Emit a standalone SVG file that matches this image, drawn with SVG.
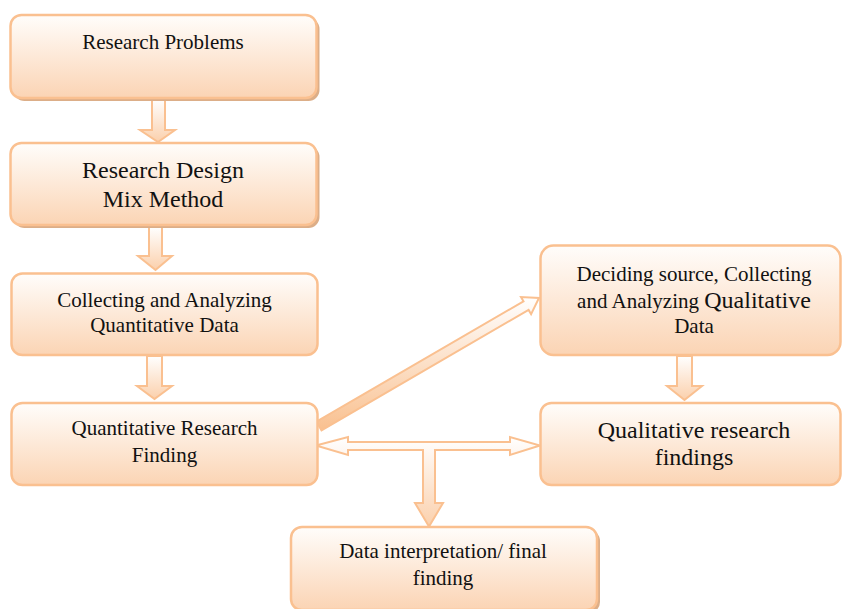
<svg xmlns="http://www.w3.org/2000/svg" width="842" height="609" viewBox="0 0 842 609">
<defs>
<linearGradient id="gBox" x1="0" y1="0" x2="0" y2="1">
<stop offset="0" stop-color="#fffdfb"/>
<stop offset="1" stop-color="#fbd4b4"/>
</linearGradient>
<linearGradient id="gArrow" x1="0" y1="0" x2="0" y2="1">
<stop offset="0" stop-color="#ffffff"/>
<stop offset="1" stop-color="#fbd0ac"/>
</linearGradient>
<linearGradient id="gDiag" x1="0" y1="0" x2="0" y2="1">
<stop offset="0" stop-color="#ffffff"/>
<stop offset="1" stop-color="#f9c08f"/>
</linearGradient>
</defs>
<style>
.box{fill:url(#gBox);stroke:#fac090;stroke-width:2.5}
.shadow{fill:#dcae88}
.arr{fill:url(#gArrow);stroke:#fac090;stroke-width:2;stroke-linejoin:miter}
.diag{fill:url(#gDiag);stroke:#fac090;stroke-width:2}
text{font-family:"Liberation Serif","Times New Roman",serif;fill:#111;text-anchor:middle}
.t21{font-size:21px}
.t24{font-size:24px}
</style>
<rect width="842" height="609" fill="#ffffff"/>

<g id="connectors">
<path class="arr" d="M152,99 L165,99 L165,130 L175,130 L158,142 L140,130 L152,130 Z"/>
<path class="arr" d="M149,227 L162,227 L162,256 L172,256 L155.5,270 L138,256 L149,256 Z"/>
<path class="arr" d="M147,356 L162,356 L162,386 L172,386 L154.5,399 L137,386 L147,386 Z"/>
<path class="arr" d="M677,356 L692,356 L692,386 L702,386 L684.5,400 L667,386 L677,386 Z"/>
<path class="diag" d="M316.5,421.7 L523.5,301.3 L521,297 L539,298 L531.1,314.2 L528.6,309.9 L321.5,430.3 Z"/>
<path class="arr" d="M316,445.5 L348,437 L348,442 L510,442 L510,437 L540,445.5 L510,455 L510,450 L435,450 L435,503 L443,503 L429,526.5 L415,503 L423,503 L423,450 L348,450 L348,455 Z"/>
</g>

<g id="n1">
<rect class="shadow" x="13.5" y="18" width="306" height="83" rx="11"/>
<rect class="box" x="10.5" y="15" width="306" height="83" rx="11"/>
<text class="t21" x="163" y="49">Research Problems</text>
</g>

<g id="n2">
<rect class="shadow" x="13.5" y="146" width="306" height="82" rx="11"/>
<rect class="box" x="10.5" y="143" width="306" height="82" rx="11"/>
<text class="t24" x="163" y="178">Research Design</text>
<text class="t24" x="163" y="207">Mix Method</text>
</g>

<g id="n3">
<rect class="box" x="11.5" y="273.5" width="306" height="81.5" rx="11"/>
<text class="t21" x="164.5" y="306.5">Collecting and Analyzing</text>
<text class="t21" x="164.5" y="331.5">Quantitative Data</text>
</g>

<g id="n4">
<rect class="box" x="11.5" y="403" width="306" height="82" rx="11"/>
<text class="t21" x="164.5" y="435">Quantitative Research</text>
<text class="t21" x="164.5" y="461.5">Finding</text>
</g>

<g id="n5">
<rect class="box" x="540.5" y="245.5" width="300" height="109.5" rx="13"/>
<text class="t21" x="694" y="281">Deciding source, Collecting</text>
<text class="t21" x="694" y="308">and Analyzing <tspan class="t24">Qualitative</tspan></text>
<text class="t21" x="694" y="333">Data</text>
</g>

<g id="n6">
<rect class="box" x="540.5" y="403" width="300" height="82" rx="11"/>
<text class="t24" x="694" y="438">Qualitative research</text>
<text class="t24" x="694" y="465">findings</text>
</g>

<g id="n7">
<rect class="shadow" x="294" y="530" width="306" height="83" rx="11"/>
<rect class="box" x="291" y="527" width="306" height="83" rx="11"/>
<text class="t21" x="443" y="558">Data interpretation/ final</text>
<text class="t21" x="443" y="585">finding</text>
</g>
</svg>
